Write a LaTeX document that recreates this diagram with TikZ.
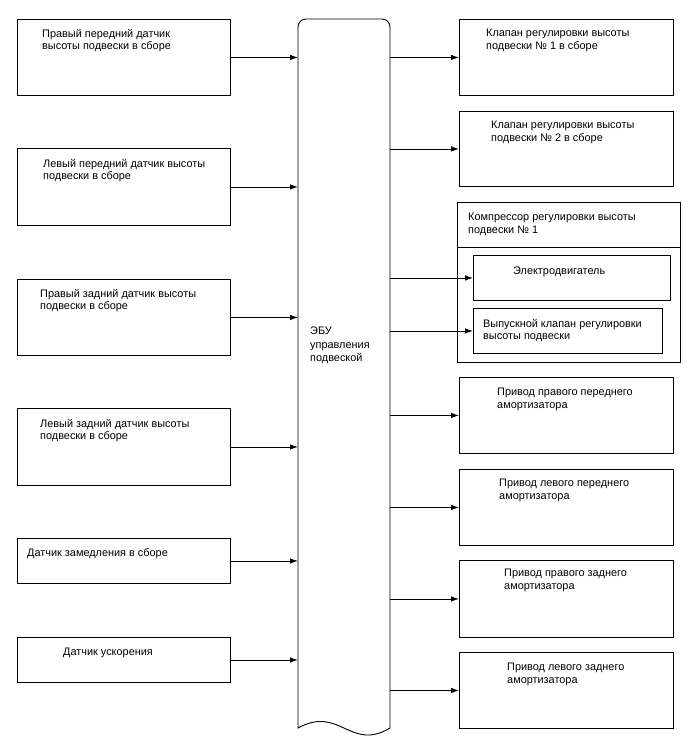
\documentclass[tikz,border=0pt]{standalone}
\usepackage{fontspec}
\setmainfont{Liberation Sans}
\usetikzlibrary{arrows.meta}
\tikzset{
  box/.style={draw=black, line width=0.9pt, rectangle, inner sep=0pt, anchor=north west},
  txt/.style={inner sep=0pt, anchor=north west, align=left, font=\fontsize{10.9}{12.5}\selectfont},
  arr/.style={line width=0.9pt, -{Latex[length=8pt,width=5.5pt]}},
}
\begin{document}
\begin{tikzpicture}[x=1pt,y=-1pt]
\useasboundingbox (0,0) rectangle (688,755);
% ECU
\node[inner sep=0pt, minimum width=92pt, minimum height=709pt, anchor=north west] (ecu) at (298,19) {};
\draw[line width=0.9pt] (298,728) -- (298,27) arc[start angle=180,end angle=90,radius=8pt] -- (382,19)
  arc[start angle=90,end angle=0,radius=8pt] -- (390,728)
  .. controls (350,752) and (340,705) .. (298,728) -- cycle;
\node[txt, font=\fontsize{10.9}{13.5}\selectfont] (ecut) at (310,327) {ЭБУ\\управления\\подвеской};
% left boxes
\node[box, minimum width=213pt, minimum height=76pt] (l1) at (17,19) {};
\node[box, minimum width=213pt, minimum height=77pt] (l2) at (17,148) {};
\node[box, minimum width=213pt, minimum height=76pt] (l3) at (17,279) {};
\node[box, minimum width=213pt, minimum height=77pt] (l4) at (17,408) {};
\node[box, minimum width=213pt, minimum height=45pt] (l5) at (17,538) {};
\node[box, minimum width=213pt, minimum height=45pt] (l6) at (17,637) {};
\node[txt] (l1t) at (42,29) {Правый передний датчик\\высоты подвески в сборе};
\node[txt] (l2t) at (43,159) {Левый передний датчик высоты\\подвески в сборе};
\node[txt] (l3t) at (40,289) {Правый задний датчик высоты\\подвески в сборе};
\node[txt] (l4t) at (40,419) {Левый задний датчик высоты\\подвески в сборе};
\node[txt] (l5t) at (27,548) {Датчик замедления в сборе};
\node[txt] (l6t) at (63,648) {Датчик ускорения};
% right boxes
\node[box, minimum width=214pt, minimum height=76pt] (r1) at (459,19) {};
\node[box, minimum width=214pt, minimum height=75pt] (r2) at (459,111) {};
\node[box, minimum width=223pt, minimum height=160pt] (comp) at (457,202) {};
\draw[line width=0.9pt] (comp.west |- 0,247) coordinate (hl) -- (comp.east |- 0,247) coordinate (hr);
\node[box, minimum width=197pt, minimum height=45pt] (m1) at (473,255) {};
\node[box, minimum width=189pt, minimum height=45pt] (m2) at (473,308) {};
\node[box, minimum width=214pt, minimum height=76pt] (r4) at (459,377) {};
\node[box, minimum width=214pt, minimum height=76pt] (r5) at (459,469) {};
\node[box, minimum width=214pt, minimum height=77pt] (r6) at (459,560) {};
\node[box, minimum width=214pt, minimum height=76pt] (r7) at (459,652) {};
\node[txt] (r1t) at (486,29) {Клапан регулировки высоты\\подвески № 1 в сборе};
\node[txt] (r2t) at (491,121) {Клапан регулировки высоты\\подвески № 2 в сборе};
\node[txt] (compt) at (468,213) {Компрессор регулировки высоты\\подвески № 1};
\node[txt] (m1t) at (513,267) {Электродвигатель};
\node[txt] (m2t) at (483,319) {Выпускной клапан регулировки\\высоты подвески};
\node[txt] (r4t) at (497,388) {Привод правого переднего\\амортизатора};
\node[txt] (r5t) at (499,479) {Привод левого переднего\\амортизатора};
\node[txt] (r6t) at (504,569) {Привод правого заднего\\амортизатора};
\node[txt] (r7t) at (507,663) {Привод левого заднего\\амортизатора};
% arrows in
\foreach \n in {l1,l2,l3,l4,l5,l6}
  \draw[arr] (\n.east) -- (\n.east -| ecu.west);
% arrows out
\foreach \n in {r1,r2,m1,m2,r4,r5,r6,r7}
  \draw[arr] (\n.west -| ecu.east) -- (\n.west);
\end{tikzpicture}
\end{document}
